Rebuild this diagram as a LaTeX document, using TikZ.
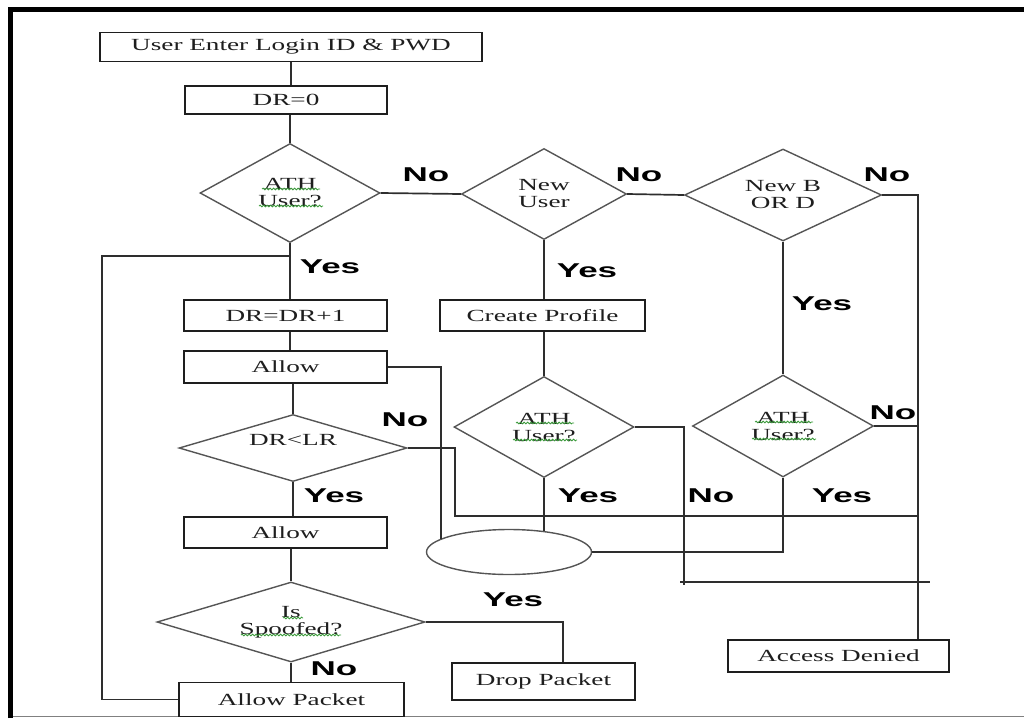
\documentclass[tikz,border=0pt]{standalone}
\usepackage{fontspec}
\setmainfont{Liberation Serif}
\newfontfamily\boxfont{Liberation Serif}[FakeStretch=1.6]
\newfontfamily\lblfont{Liberation Sans}[FakeStretch=1.75]
\usetikzlibrary{shapes.geometric,decorations.pathmorphing}

\definecolor{inkc}{HTML}{1E1E1E}
\definecolor{wirec}{HTML}{2E2E2E}
\definecolor{edgec}{HTML}{555555}
\definecolor{spellc}{HTML}{3A9A3A}

\tikzset{
  stepbox/.style={draw=inkc, line width=1.8pt, rectangle, inner sep=0pt, text=inkc,
    font=\boxfont\fontsize{17}{17}\selectfont},
  decision/.style={draw=edgec, line width=1.4pt, diamond, inner sep=0pt, align=center, text=inkc,
    font=\boxfont\fontsize{17}{17}\selectfont},
  yn/.style={font=\lblfont\bfseries\fontsize{20}{22}\selectfont, inner sep=0pt, text=black},
  wire/.style={draw=wirec, line width=1.7pt},
  squig/.style={draw=spellc, line width=0.8pt, decorate,
    decoration={snake, amplitude=0.9pt, segment length=3.5pt}}
}

\begin{document}
\begin{tikzpicture}[x=1pt, y=-1pt]
\useasboundingbox (0,0) rectangle (1024,718);

% frame
\draw[gray, line width=1.5pt] (10,716.5) -- (1024,716.5);
\draw[black, line width=5pt] (10,718) -- (10,9) -- (1024,9);

% process boxes and decisions
\node[stepbox, minimum width=382pt, minimum height=29pt] (login) at (291,47) {User Enter Login ID \& PWD};
\node[stepbox, minimum width=202pt, minimum height=28pt] (dr0) at (286,100) {DR=0};
\node[decision, aspect=1.8, minimum width=180pt, minimum height=99pt] (ath1) at (290,193) {ATH\\User?};
\node[decision, aspect=1.8, minimum width=165pt, minimum height=91pt] (newu) at (544,194) {New\\User};
\node[decision, aspect=2.1, minimum width=197pt, minimum height=92pt] (newbd) at (783,195) {New B\\OR D};
\node[stepbox, minimum width=203pt, minimum height=31pt] (inc) at (285.5,315.5) {DR=DR+1};
\node[stepbox, minimum width=205pt, minimum height=31pt] (prof) at (542.5,315.5) {Create Profile};
\node[stepbox, minimum width=203pt, minimum height=32pt] (allowa) at (285.5,367) {Allow};
\node[decision, aspect=1.8, minimum width=180pt, minimum height=101pt] (ath2) at (544,427) {ATH\\User?};
\node[decision, aspect=1.8, minimum width=181pt, minimum height=102pt] (ath3) at (783,426) {ATH\\User?};
\node[decision, aspect=3.4, minimum width=228pt, minimum height=67pt, text depth=16pt] (lim) at (293,448) {DR<LR};
\node[stepbox, minimum width=203pt, minimum height=31pt] (allowb) at (285.5,532.5) {Allow};
\node[draw=edgec, line width=1.4pt, ellipse, minimum width=165pt, minimum height=45pt, inner sep=0pt] (join) at (509,552) {};
\node[decision, aspect=3.35, minimum width=268pt, minimum height=80pt] (spoof) at (291,622) {Is\\Spoofed?};
\node[stepbox, minimum width=183pt, minimum height=37pt] (drop) at (543.5,681.5) {Drop Packet};
\node[stepbox, minimum width=225pt, minimum height=34pt] (pass) at (291.5,699.5) {Allow Packet};
\node[stepbox, minimum width=221pt, minimum height=32pt] (deny) at (838.5,656) {Access Denied};

% branch labels
\node[yn] (n1) at (426,175) {No};
\node[yn] (n2) at (639,175) {No};
\node[yn] (n3) at (887,175) {No};
\node[yn] (y1) at (330,267) {Yes};
\node[yn] (y2) at (587,271) {Yes};
\node[yn] (y3) at (822,304) {Yes};
\node[yn] (n4) at (405,420) {No};
\node[yn] (n5) at (893,413) {No};
\node[yn] (y4) at (334,496) {Yes};
\node[yn] (y5) at (588,496) {Yes};
\node[yn] (n6) at (711,496) {No};
\node[yn] (y6) at (842,496) {Yes};
\node[yn] (y7) at (513,600) {Yes};
\node[yn] (n7) at (334,669) {No};

% routing points
\coordinate (xr) at (918,0);
\coordinate (xl) at (102,0);
\coordinate (fb) at (291,256);
\coordinate (nb) at (455,516);
\coordinate (xd) at (563,0);
\coordinate (dk) at (684,585);
\coordinate (hl) at (680,582);
\coordinate (hr) at (930,582);

% main column
\draw[wire] (login.south) -- (login.south |- dr0.north);
\draw[wire] (ath1.north |- dr0.south) -- (ath1.north);
\draw[wire] (ath1.south) -- (ath1.south |- inc.north);
\draw[wire] (ath1.south |- inc.south) -- (ath1.south |- allowa.north);
\draw[wire] (lim.north |- allowa.south) -- (lim.north);
\draw[wire] (lim.south) -- (lim.south |- allowb.north);
\draw[wire] (spoof.north |- allowb.south) -- (spoof.north);
\draw[wire] (spoof.south) -- (spoof.south |- pass.north);
\draw[wire] (pass.west) -- (pass.west -| xl) -- (xl |- fb) -- (fb);

% upper branches
\draw[wire] (ath1.east) -- (newu.west);
\draw[wire] (newu.east) -- (newbd.west);
\draw[wire] (newbd.east) -- (newbd.east -| xr) -- (xr |- deny.north);
\draw[wire] (newu.south) -- (newu.south |- prof.north);
\draw[wire] (prof.south -| ath2.north) -- (ath2.north);
\draw[wire] (newbd.south) -- (ath3.north);

% lower branches
\draw[wire] (allowa.east) -| (join.169);
\draw[wire] (ath2.south) -- (ath2.south |- join.30);
\draw[wire] (ath3.south) |- (join.east);
\draw[wire] (ath3.east) -- (ath3.east -| xr);
\draw[wire] (ath2.east) -| (dk);
\draw[wire] (hl) -- (hr);
\draw[wire] (lim.east) -| (nb) -- (nb -| xr);
\draw[wire] (spoof.east) -| (xd |- drop.north);

% spelling marks under words
\foreach \d in {ath1,ath2,ath3}{
  \draw[squig] ([shift={(-28,-4)}]\d.center) -- ++(58,0);
  \draw[squig] ([shift={(-31,13)}]\d.center) -- ++(64,0);
}
\draw[squig] ([shift={(-8,-4)}]spoof.center) -- ++(20,0);
\draw[squig] ([shift={(-50,13)}]spoof.center) -- ++(100,0);
\end{tikzpicture}
\end{document}
